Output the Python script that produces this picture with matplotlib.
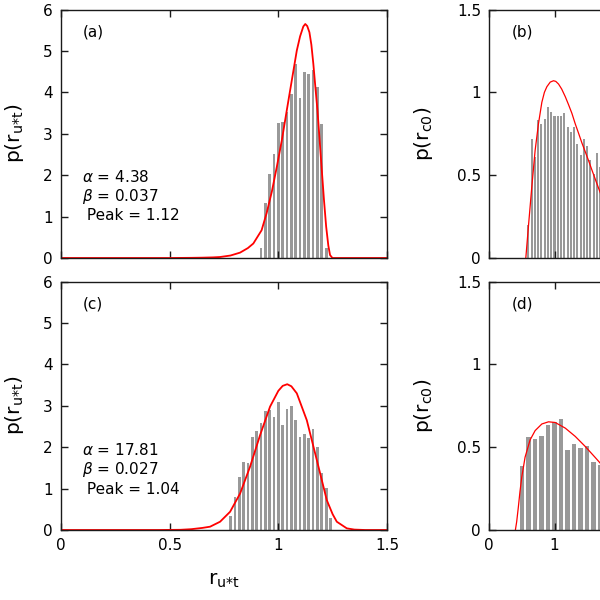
import matplotlib
matplotlib.use("Agg")
import matplotlib.pyplot as plt
from matplotlib.ticker import FixedLocator, FuncFormatter

# ---------------- data ----------------
# panel (a): histogram of r_u*t (bin centres / heights)
a_x = [0.92, 0.94, 0.96, 0.98, 1.00, 1.02, 1.04, 1.06, 1.08, 1.10,
       1.12, 1.14, 1.16, 1.18, 1.20, 1.22]
a_h = [0.25, 1.33, 2.04, 2.52, 3.25, 3.28, 3.52, 3.97, 4.69, 3.87,
       4.48, 4.45, 4.55, 4.13, 3.23, 0.25]
# panel (a): fitted curve
a_cx = [0.0, 0.50, 0.60, 0.65, 0.70, 0.732, 0.78, 0.824, 0.86, 0.885, 0.923,
        0.946, 0.970, 0.993, 1.016, 1.039, 1.062, 1.085, 1.100, 1.115, 1.124,
        1.133, 1.143, 1.152, 1.161, 1.170, 1.180, 1.190, 1.200, 1.210, 1.220,
        1.230, 1.238, 1.249, 1.50]
a_cy = [0.0, 0.0, 0.004, 0.008, 0.015, 0.024, 0.06, 0.13, 0.24, 0.35, 0.67,
        1.08, 1.60, 2.20, 2.84, 3.57, 4.29, 5.01, 5.35, 5.59, 5.65,
        5.60, 5.45, 5.15, 4.69, 4.15, 3.57, 2.85, 2.12, 1.40, 0.76,
        0.30, 0.07, 0.0, 0.0]

# panel (b): histogram of r_c0
b_x = [0.60, 0.65, 0.70, 0.75, 0.80, 0.85, 0.90, 0.95, 1.00, 1.05, 1.10,
       1.15, 1.20, 1.25, 1.30, 1.35, 1.40, 1.45, 1.50, 1.55, 1.60, 1.65, 1.70]
b_h = [0.20, 0.72, 0.61, 0.83, 0.81, 0.84, 0.91, 0.88, 0.855, 0.857, 0.86,
       0.873, 0.79, 0.76, 0.79, 0.69, 0.62, 0.72, 0.675, 0.59, 0.51, 0.635, 0.55]
b_cx = [0.56, 0.60, 0.652, 0.703, 0.754, 0.806, 0.845, 0.883, 0.935, 0.985,
        1.02, 1.062, 1.11, 1.165, 1.216, 1.267, 1.318, 1.37, 1.42, 1.472,
        1.525, 1.575, 1.64, 1.703, 1.75]
b_cy = [0.0, 0.19, 0.43, 0.65, 0.81, 0.94, 1.00, 1.034, 1.062, 1.07,
        1.066, 1.05, 1.02, 0.974, 0.925, 0.873, 0.81, 0.752, 0.695, 0.641,
        0.585, 0.53, 0.46, 0.393, 0.35]

# panel (c): histogram of r_u*t
c_x = [0.78, 0.80, 0.82, 0.84, 0.86, 0.88, 0.90, 0.92, 0.94, 0.96, 0.98, 1.00,
       1.02, 1.04, 1.06, 1.08, 1.10, 1.12, 1.14, 1.16, 1.18, 1.20, 1.22, 1.24]
c_h = [0.34, 0.79, 1.28, 1.64, 1.62, 2.24, 2.40, 2.59, 2.87, 2.89, 2.74, 3.08,
       2.53, 2.91, 3.00, 2.65, 2.24, 2.32, 2.22, 2.43, 2.01, 1.38, 1.02, 0.30]
c_cx = [0.0, 0.45, 0.55, 0.60, 0.65, 0.686, 0.732, 0.778, 0.824, 0.870, 0.916,
        0.962, 1.000, 1.020, 1.041, 1.060, 1.085, 1.131, 1.177, 1.223, 1.250,
        1.269, 1.315, 1.350, 1.400, 1.50]
c_cy = [0.0, 0.0, 0.005, 0.02, 0.05, 0.08, 0.20, 0.44, 0.88, 1.53, 2.29,
        2.98, 3.36, 3.48, 3.52, 3.47, 3.30, 2.65, 1.69, 0.72, 0.38,
        0.20, 0.04, 0.01, 0.0, 0.0]

# panel (d): histogram of r_c0
d_x = [0.5, 0.6, 0.7, 0.8, 0.9, 1.0, 1.1, 1.2, 1.3, 1.4, 1.5, 1.6, 1.7]
d_h = [0.387, 0.56, 0.55, 0.565, 0.633, 0.653, 0.669, 0.482, 0.518, 0.496,
       0.508, 0.413, 0.393]
d_cx = [0.40, 0.42, 0.446, 0.47, 0.498, 0.549, 0.626, 0.703, 0.806, 0.908,
        1.01, 1.165, 1.318, 1.472, 1.626, 1.703, 1.75]
d_cy = [0.0, 0.05, 0.14, 0.23, 0.32, 0.44, 0.544, 0.60, 0.64, 0.653,
        0.649, 0.615, 0.565, 0.504, 0.437, 0.403, 0.39]

stats_a = [r"$\alpha$ = 4.38", r"$\beta$ = 0.037", " Peak = 1.12"]
stats_c = [r"$\alpha$ = 17.81", r"$\beta$ = 0.027", " Peak = 1.04"]

ylab_u = r"p(r$_{\rm u{*}t}$)"
ylab_c = r"p(r$_{\rm c0}$)"
xlab_u = r"r$_{\rm u{*}t}$"

left_xticks = [0, 0.5, 1, 1.5]
left_yticks = [0, 1, 2, 3, 4, 5, 6]
right_xticks = [0, 1, 2, 3, 4, 5]
right_yticks = [0, 0.5, 1, 1.5]

# ---------------- style ----------------
BAR = "#999999"
RED = "#ff0000"
SPINE = "#1a1a1a"
plt.rcParams["font.family"] = ["DejaVu Sans"]
plt.rcParams["mathtext.fontset"] = "dejavusans"

fig = plt.figure(figsize=(6, 6), dpi=100)
W = 326 / 600
H = 248.5 / 600
ax_a = fig.add_axes([61 / 600, 1 - 258 / 600, W, H])
ax_b = fig.add_axes([489.3 / 600, 1 - 258 / 600, W, H])
ax_c = fig.add_axes([61 / 600, 1 - 530 / 600, W, H])
ax_d = fig.add_axes([489.3 / 600, 1 - 530 / 600, W, H])

fmt = FuncFormatter(lambda v, p: f"{v:g}")


def style(ax, xticks, yticks, xlim, ylim, show_xlabels):
    ax.set_xlim(*xlim)
    ax.set_ylim(*ylim)
    ax.xaxis.set_major_locator(FixedLocator(xticks))
    ax.yaxis.set_major_locator(FixedLocator(yticks))
    ax.xaxis.set_major_formatter(fmt)
    ax.yaxis.set_major_formatter(fmt)
    ax.tick_params(direction="in", length=5, width=1, top=True, right=True,
                   labelsize=11, colors=SPINE, pad=6)
    ax.tick_params(labelcolor="black")
    if not show_xlabels:
        ax.tick_params(labelbottom=False)
    for s in ax.spines.values():
        s.set_color(SPINE)
        s.set_linewidth(1.0)


# panel a
ax_a.bar(a_x, a_h, width=0.0125, color=BAR, linewidth=0)
ax_a.plot(a_cx, a_cy, color=RED, lw=1.3)
style(ax_a, left_xticks, left_yticks, (0, 1.5), (0, 6), False)
ax_a.set_ylabel(ylab_u, fontsize=14.5)
ax_a.yaxis.set_label_coords(-0.108, 0.5)
ax_a.text(0.10, 5.45, "(a)", fontsize=11, va="center")
for i, s in enumerate(stats_a):
    ax_a.text(0.095, 1.96 - 0.47 * i, s, fontsize=11, va="center")

# panel b
ax_b.bar(b_x, b_h, width=0.031, color=BAR, linewidth=0)
ax_b.plot(b_cx, b_cy, color=RED, lw=0.9)
style(ax_b, right_xticks, right_yticks, (0, 5), (0, 1.5), False)
ax_b.set_ylabel(ylab_c, fontsize=14.5)
ax_b.yaxis.set_label_coords(-0.167, 0.5)
ax_b.text(0.35, 1.365, "(b)", fontsize=11, va="center")

# panel c
ax_c.bar(c_x, c_h, width=0.0125, color=BAR, linewidth=0)
ax_c.plot(c_cx, c_cy, color=RED, lw=1.3)
style(ax_c, left_xticks, left_yticks, (0, 1.5), (0, 6), True)
ax_c.set_ylabel(ylab_u, fontsize=14.5)
ax_c.yaxis.set_label_coords(-0.108, 0.5)
ax_c.set_xlabel(xlab_u, fontsize=14.5)
ax_c.xaxis.set_label_coords(0.5, -0.165)
ax_c.text(0.10, 5.45, "(c)", fontsize=11, va="center")
for i, s in enumerate(stats_c):
    ax_c.text(0.095, 1.92 - 0.47 * i, s, fontsize=11, va="center")

# panel d
ax_d.bar(d_x, d_h, width=0.072, color=BAR, linewidth=0)
ax_d.plot(d_cx, d_cy, color=RED, lw=0.9)
style(ax_d, right_xticks, right_yticks, (0, 5), (0, 1.5), True)
ax_d.set_ylabel(ylab_c, fontsize=14.5)
ax_d.yaxis.set_label_coords(-0.167, 0.5)
ax_d.text(0.35, 1.365, "(d)", fontsize=11, va="center")

fig.savefig("out.png", dpi=100)
